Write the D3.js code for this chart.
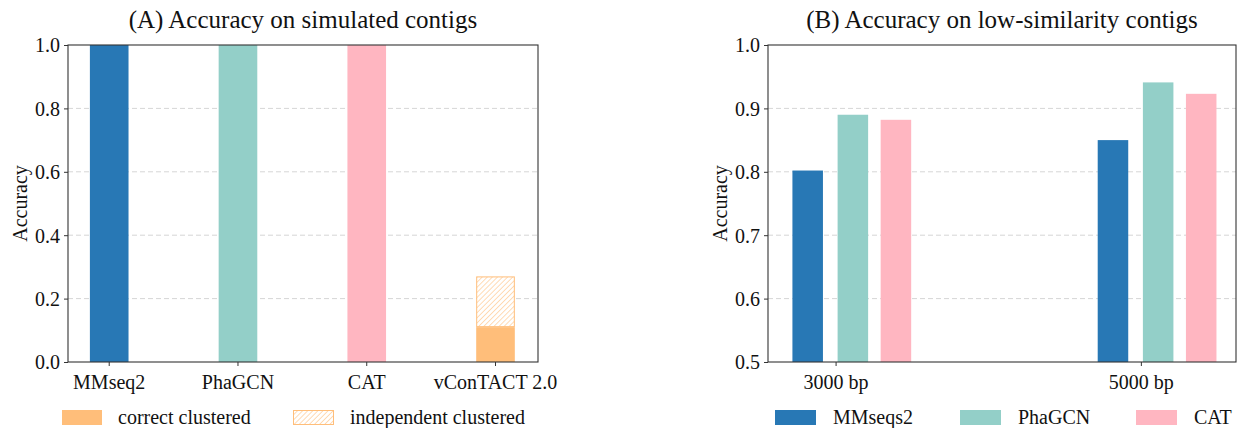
<!DOCTYPE html>
<html><head><meta charset="utf-8">
<script src="https://cdn.jsdelivr.net/npm/d3@7"></script>
<style>body{margin:0;background:#fff}svg{display:block}text{font-family:"Liberation Serif","DejaVu Serif",serif !important;fill:#111}</style>
</head><body><svg id="c" width="1239" height="428"></svg>
<script>
// Panel A data
const catsA = ["MMseq2", "PhaGCN", "CAT", "vConTACT 2.0"];
const correctA = [1.0, 1.0, 1.0, 0.11];
const independentA = [0, 0, 0, 0.16];
const ticksA = [0.0, 0.2, 0.4, 0.6, 0.8, 1.0];
// Panel B data
const groupsB = ["3000 bp", "5000 bp"];
const toolsB = ["MMseqs2", "PhaGCN", "CAT"];
const mmseqsB = [0.802, 0.850];
const phagcnB = [0.890, 0.941];
const catB = [0.882, 0.923];
const ticksB = [0.5, 0.6, 0.7, 0.8, 0.9, 1.0];
const legendA = ["correct clustered", "independent clustered"];

const colA = ["#2878b5", "#93cfc8", "#ffb6c1", "#ffbe7a"];
const colB = ["#2878b5", "#93cfc8", "#ffb6c1"];
const orange = "#ffbe7a";
const FONT = "Liberation Serif, DejaVu Serif, serif";

const svg = d3.select("#c");
const defs = svg.append("defs");
const pat = defs.append("pattern").attr("id","hatch").attr("patternUnits","userSpaceOnUse")
  .attr("width",3.6).attr("height",3.6).attr("patternTransform","rotate(45)");
pat.append("rect").attr("width",3.6).attr("height",3.6).attr("fill","#fff");
pat.append("line").attr("x1",0).attr("y1",0).attr("x2",0).attr("y2",3.6).attr("stroke",orange).attr("stroke-width",1.1);

function grid(g, x0, x1, y, ticks){
  g.selectAll(".grid").data(ticks.slice(1,-1)).join("line")
    .attr("x1",x0).attr("x2",x1).attr("y1",d=>y(d)).attr("y2",d=>y(d))
    .attr("stroke","#d6d6d6").attr("stroke-dasharray","5,3").attr("stroke-width",1);
}

function axes(g, x0, x1, y, ticks, fmt, xs, labels, title, ylab, ylx){
  const top=y.range()[1], bot=y.range()[0];
  g.append("rect").attr("x",x0).attr("y",top).attr("width",x1-x0).attr("height",bot-top)
    .attr("fill","none").attr("stroke","#333").attr("stroke-width",1.1);
  const ya = d3.axisLeft(y).tickValues(ticks).tickFormat(fmt).tickSize(4).tickPadding(4);
  const yg = g.append("g").attr("transform",`translate(${x0},0)`).call(ya)
    .attr("font-family",FONT).attr("font-size",20);
  yg.select(".domain").remove();
  yg.selectAll("text").attr("font-family",FONT).style("font-size","20px").attr("dy","0.34em");
  yg.selectAll("line").attr("stroke","#333");
  xs.forEach((px,i)=>{
    g.append("line").attr("x1",px).attr("x2",px).attr("y1",bot).attr("y2",bot+4).attr("stroke","#333");
    g.append("text").attr("x",px).attr("y",bot+27).attr("text-anchor","middle").attr("font-family",FONT).style("font-size","20px").text(labels[i]);
  });
  g.append("text").attr("x",(x0+x1)/2).attr("y",28).attr("text-anchor","middle").attr("font-family",FONT).style("font-size","25px").text(title);
  g.append("text").attr("transform",`translate(${ylx},${(top+bot)/2}) rotate(-90)`).attr("text-anchor","middle").attr("font-family",FONT).style("font-size","20px").text(ylab);
}

// ---------- Panel A
{
  const g = svg.append("g");
  const x0=68, x1=538;
  const x = d3.scaleLinear().domain([-0.32, 3.33]).range([x0,x1]);
  const y = d3.scaleLinear().domain([0,1]).range([362,45]);
  const w = x(0.3)-x(0);
  grid(g,x0,x1,y,ticksA);
  catsA.forEach((c,i)=>{
    g.append("rect").attr("x",x(i)-w/2).attr("y",y(correctA[i])).attr("width",w)
      .attr("height",y(0)-y(correctA[i])).attr("fill",colA[i]);
    if(independentA[i]>0){
      const t=correctA[i]+independentA[i];
      g.append("rect").attr("x",x(i)-w/2+0.5).attr("y",y(t)+0.5).attr("width",w-1)
        .attr("height",y(correctA[i])-y(t)-1).attr("fill","url(#hatch)").attr("stroke",orange).attr("stroke-width",1);
    }
  });
  axes(g,x0,x1,y,ticksA,d3.format(".1f"),catsA.map((c,i)=>x(i)),catsA,"(A) Accuracy on simulated contigs","Accuracy",27);
  // legend
  const ly=410;
  g.append("rect").attr("x",62).attr("y",ly).attr("width",40).attr("height",15).attr("fill",orange);
  g.append("text").attr("x",118).attr("y",ly+14).attr("font-family",FONT).style("font-size","20px").text(legendA[0]);
  g.append("rect").attr("x",293.5).attr("y",ly+0.5).attr("width",40).attr("height",14).attr("fill","url(#hatch)").attr("stroke",orange);
  g.append("text").attr("x",350).attr("y",ly+14).attr("font-family",FONT).style("font-size","20px").text(legendA[1]);
}

// ---------- Panel B
{
  const g = svg.append("g");
  const x0=768, x1=1236;
  const x = d3.scaleLinear().domain([-0.223, 1.31]).range([x0,x1]);
  const y = d3.scaleLinear().domain([0.5,1]).range([362,45]);
  const offs=[-0.093, 0.055, 0.196], bw=0.1;
  const w = x(bw)-x(0);
  grid(g,x0,x1,y,ticksB);
  const series=[mmseqsB, phagcnB, catB];
  series.forEach((vals,s)=>{
    g.selectAll(null).data(vals).join("rect")
      .attr("x",(d,i)=>x(i+offs[s])-w/2).attr("y",d=>y(d)).attr("width",w)
      .attr("height",d=>y(0.5)-y(d)).attr("fill",colB[s]);
  });
  axes(g,x0,x1,y,ticksB,d3.format(".1f"),groupsB.map((c,i)=>x(i)),groupsB,"(B) Accuracy on low-similarity contigs","Accuracy",727);
  const lx=[775,960,1136];
  toolsB.forEach((t,i)=>{
    g.append("rect").attr("x",lx[i]).attr("y",410).attr("width",41).attr("height",15).attr("fill",colB[i]);
    g.append("text").attr("x",lx[i]+58).attr("y",424).attr("font-family",FONT).style("font-size","20px").text(t);
  });
}
</script></body></html>
